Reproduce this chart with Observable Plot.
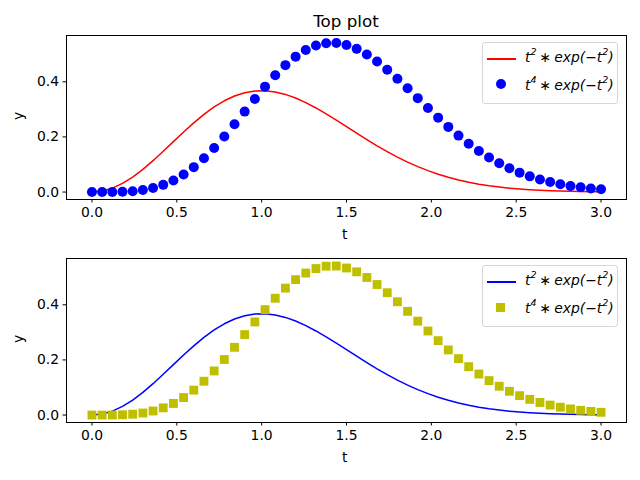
<!DOCTYPE html>
<html><head><meta charset="utf-8">
<script src="https://cdn.jsdelivr.net/npm/d3@7"></script>
<script src="https://cdn.jsdelivr.net/npm/@observablehq/plot@0.6"></script>
<style>
html,body{margin:0;padding:0;background:#fff;}
#wrap{position:relative;width:640px;height:480px;font-family:"DejaVu Sans",sans-serif;}
.panel{position:absolute;left:0;width:640px;height:240px;}
.title{position:absolute;left:66px;width:560px;top:11px;text-align:center;font-size:16.7px;line-height:20px;color:#000;z-index:2;}
.lab{position:absolute;font-size:13.9px;line-height:16px;color:#000;z-index:2;}
.ylab{transform:rotate(-90deg);transform-origin:center;}
.legend{position:absolute;border:1px solid #d6d6d6;border-radius:3px;background:rgba(255,255,255,0.8);box-sizing:border-box;z-index:2;}
.entry{position:absolute;left:0;height:20px;font-size:13.9px;font-style:italic;line-height:20px;white-space:nowrap;}
.entry sup{font-size:9.5px;vertical-align:7px;line-height:0;}
.entry .op{font-style:normal;margin:0 3px;}
</style></head>
<body><div id="wrap">
<div class="panel" id="p1" style="top:0"></div>
<div class="panel" id="p2" style="top:240px"></div>
<div class="title">Top plot</div>
</div>
<script>
const t = [0,0.06,0.12,0.18,0.24,0.30,0.36,0.42,0.48,0.54,0.60,0.66,0.72,0.78,0.84,0.90,0.96,1.02,1.08,1.14,1.20,1.26,1.32,1.38,1.44,1.50,1.56,1.62,1.68,1.74,1.80,1.86,1.92,1.98,2.04,2.10,2.16,2.22,2.28,2.34,2.40,2.46,2.52,2.58,2.64,2.70,2.76,2.82,2.88,2.94,3.00];
const y1 = [0,0.00359,0.01419,0.03137,0.05438,0.08225,0.11385,0.14787,0.18299,0.21784,0.25116,0.28178,0.30870,0.33112,0.34843,0.36034,0.36668,0.36758,0.36331,0.35432,0.34118,0.32452,0.30506,0.28357,0.26076,0.23715,0.21351,0.19021,0.16780,0.14660,0.12689,0.10881,0.09242,0.07779,0.06488,0.05361,0.04389,0.03562,0.02865,0.02284,0.01815,0.01425,0.01109,0.00856,0.00656,0.00497,0.00375,0.00280,0.00207,0.00152,0.00111];
const y2 = [0,0.00001,0.00020,0.00102,0.00313,0.00740,0.01476,0.02609,0.04216,0.06352,0.09042,0.12274,0.16003,0.20145,0.24586,0.29187,0.33793,0.38243,0.42377,0.46048,0.49130,0.51521,0.53154,0.54002,0.54070,0.53358,0.51959,0.49919,0.47359,0.44384,0.41113,0.37642,0.34070,0.30498,0.27000,0.23640,0.20476,0.17554,0.14893,0.12507,0.10455,0.08623,0.07045,0.05700,0.04569,0.03626,0.02853,0.02224,0.01719,0.01316,0.01000];
const xTicks = [0,0.5,1,1.5,2,2.5,3];
const yTicks = [0,0.2,0.4];

const rows = t.map((v,i)=>({t:v, a:y1[i], b:y2[i]}));

function makePlot(mt, mb, lineColor, dotColor, symbol, r){
  return Plot.plot({
    width:640, height:240,
    marginTop:mt, marginBottom:mb, marginLeft:66, marginRight:14,
    style:{fontFamily:"DejaVu Sans, sans-serif", fontSize:"13.9px", color:"#000", background:"#fff", overflow:"visible"},
    x:{domain:[-0.15,3.15], ticks:xTicks, tickFormat:d3.format(".1f"), tickSize:3.5, tickPadding:4, label:null},
    y:{domain:[-0.027,0.568], ticks:yTicks, tickFormat:d3.format(".1f"), tickSize:3.5, tickPadding:4, label:null},
    marks:[
      Plot.line(rows,{x:"t", y:"a", stroke:lineColor, strokeWidth:1.5}),
      Plot.dot(rows,{x:"t", y:"b", fill:dotColor, stroke:"none", symbol:symbol, r:r}),
      Plot.frame({stroke:"#000", strokeWidth:1})
    ]
  });
}
document.getElementById("p1").append(makePlot(35,41,"#ff0000","#0000ff","circle",5));
document.getElementById("p2").append(makePlot(18,58,"#0000ff","#bfbf00","square",5));

const wrap = document.getElementById("wrap");
function label(txt, left, top, cls){
  const d = document.createElement("div");
  d.className = "lab " + (cls||"");
  d.textContent = txt;
  d.style.left = left+"px"; d.style.top = top+"px";
  wrap.append(d);
}
label("t", 342, 226);
label("t", 342, 449);
label("y", 14, 108, "ylab");
label("y", 14, 331, "ylab");

function legend(top, lineColor, dotColor, square){
  const d = document.createElement("div");
  d.className="legend";
  d.style.left="482px"; d.style.top=top+"px"; d.style.width="136px"; d.style.height="62px";
  const txt1 = '<i>t</i><sup>2</sup><span class="op">∗</span><i>exp</i>(−<i>t</i><sup>2</sup>)';
  const txt2 = '<i>t</i><sup>4</sup><span class="op">∗</span><i>exp</i>(−<i>t</i><sup>2</sup>)';
  const marker = square
    ? `<div style="position:absolute;left:13px;top:37px;width:9px;height:9px;background:${dotColor}"></div>`
    : `<div style="position:absolute;left:13px;top:36px;width:10px;height:10px;border-radius:50%;background:${dotColor}"></div>`;
  d.innerHTML = `<div style="position:absolute;left:4px;top:15px;width:29px;height:1.5px;background:${lineColor}"></div>
    <div class="entry" style="left:42px;top:4px">${txt1}</div>${marker}
    <div class="entry" style="left:42px;top:32px">${txt2}</div>`;
  wrap.append(d);
}
legend(42,"#ff0000","#0000ff",false);
legend(265,"#0000ff","#bfbf00",true);
</script>
</body></html>
